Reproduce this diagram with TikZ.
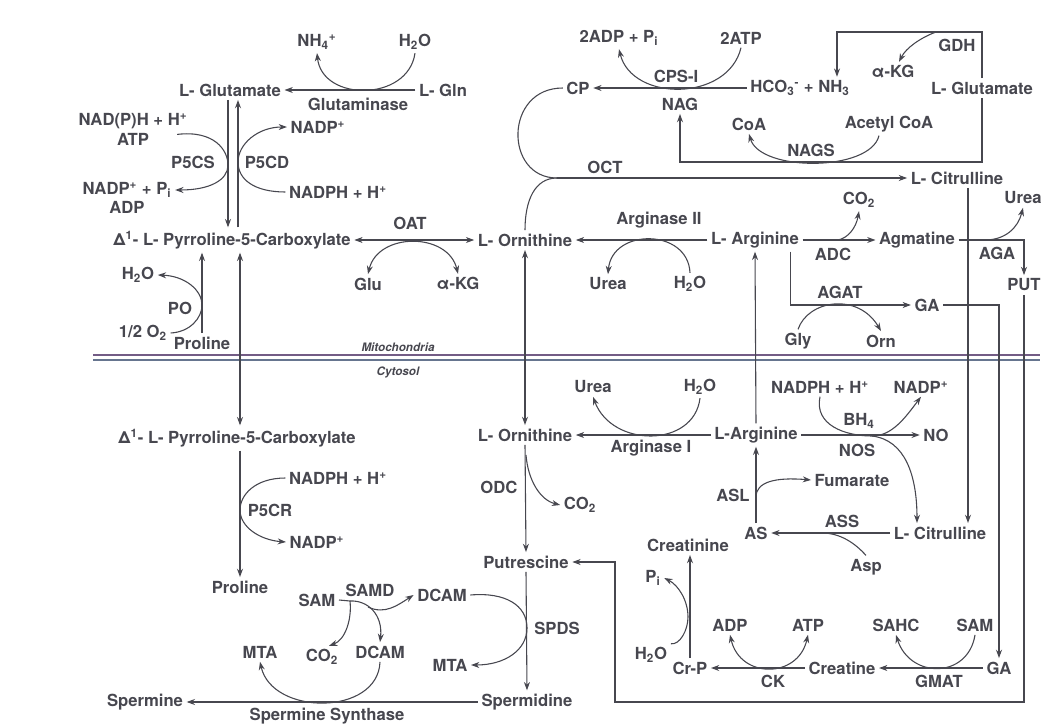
\documentclass[tikz,border=0pt]{standalone}
\usepackage{fontspec}
\setmainfont{TeX Gyre Heros}
\usetikzlibrary{arrows.meta,calc}
\definecolor{ink}{rgb}{0.28,0.28,0.31}
\definecolor{membtop}{rgb}{0.45,0.36,0.52}
\definecolor{membbot}{rgb}{0.40,0.46,0.56}
\newcommand{\sbs}[1]{\textsubscript{#1}}
\newcommand{\sps}[1]{\textsuperscript{#1}}

\begin{document}
\begin{tikzpicture}[x=0.6pt,y=-0.6pt,
    met/.style={font=\bfseries\fontsize{10}{12}\selectfont, text=ink, inner sep=2pt},
    flow/.style={draw=ink, line width=0.65pt, -{Stealth[length=5pt,width=3.6pt]}},
    twoway/.style={draw=ink, line width=0.65pt, {Stealth[length=5pt,width=3.6pt]}-{Stealth[length=5pt,width=3.6pt]}},
    plain/.style={draw=ink, line width=0.65pt},
    region/.style={font=\bfseries\itshape\fontsize{7}{8}\selectfont, text=ink, inner sep=1pt}]
    \useasboundingbox (0,0) rectangle (1047,725);

    % Mitochondria: glutamine, glutamate, proline
    \node[met] (nh4) at (317,42) {NH\sbs{4}\sps{+}};
    \node[met] (h2oA) at (415,42) {H\sbs{2}O};
    \node[met] (gluM) at (230,90) {L- Glutamate};
    \node[met] (gln) at (443,90) {L- Gln};
    \node[met] (glnase) at (358,104) {Glutaminase};
    \node[met] (nadph1) at (133,121) {NAD(P)H + H\sps{+}};
    \node[met] (atp1) at (133,139) {ATP};
    \node[met] (nadp1) at (318,127) {NADP\sps{+}};
    \node[met] (p5cs) at (193,162) {P5CS};
    \node[met] (p5cd) at (267,162) {P5CD};
    \node[met] (nadp2) at (127,190) {NADP\sps{+} + P\sbs{i}};
    \node[met] (adp1) at (127,207) {ADP};
    \node[met] (nadph2) at (338,192) {NADPH + H\sps{+}};
    \node[met] (oat) at (410,223) {OAT};
    \node[met] (p5cM) at (232,240) {Δ\sps{1}- L- Pyrroline-5-Carboxylate};
    \node[met] (ornM) at (525,240) {L- Ornithine};
    \node[met] (gluA) at (368,284) {Glu};
    \node[met] (akgA) at (458,284) {α-KG};
    \node[met] (h2oB) at (138,275) {H\sbs{2}O};
    \node[met] (po) at (180,308) {PO};
    \node[met] (o2) at (143,333) {1/2 O\sbs{2}};
    \node[met] (proM) at (202,343) {Proline};

    % Mitochondria: urea cycle side
    \node[met] (adp2) at (619,38) {2ADP + P\sbs{i}};
    \node[met] (atp2) at (741,38) {2ATP};
    \node[met] (cps) at (676,76) {CPS-I};
    \node[met] (cp) at (578,88) {CP};
    \node[met] (nag) at (680,104) {NAG};
    \node[met] (hco) at (800,88) {HCO\sbs{3}\sps{-} + NH\sbs{3}};
    \node[met] (akgB) at (893,72) {α-KG};
    \node[met] (gdh) at (957,45) {GDH};
    \node[met] (gluR) at (982,88) {L- Glutamate};
    \node[met] (coa) at (749,124) {CoA};
    \node[met] (acoa) at (889,124) {Acetyl CoA};
    \node[met] (nags) at (811,150) {NAGS};
    \node[met] (oct) at (605,167) {OCT};
    \node[met] (citM) at (957,178) {L- Citrulline};
    \node[met] (co2A) at (859,200) {CO\sbs{2}};
    \node[met] (ureaA) at (1023,198) {Urea};
    \node[met] (argII) at (659,220) {Arginase II};
    \node[met] (argM) at (755,240) {L- Arginine};
    \node[met] (agm) at (917,240) {Agmatine};
    \node[met] (adc) at (833,254) {ADC};
    \node[met] (aga) at (997,253) {AGA};
    \node[met] (ureaB) at (608,284) {Urea};
    \node[met] (h2oC) at (690,284) {H\sbs{2}O};
    \node[met] (put) at (1024,285) {PUT};
    \node[met] (agat) at (840,292) {AGAT};
    \node[met] (gaM) at (927,305) {GA};
    \node[met] (gly) at (798,341) {Gly};
    \node[met] (orn) at (881,341) {Orn};

    % Membrane
    \draw[membtop, line width=0.9pt] (93,355) -- (1040,355);
    \draw[membbot, line width=0.9pt] (93,360) -- (1040,360);
    \node[region] (mito) at (398,347) {Mitochondria};
    \node[region] (cyto) at (398,372) {Cytosol};

    % Cytosol
    \node[met] (ureaC) at (593,387) {Urea};
    \node[met] (h2oD) at (700,387) {H\sbs{2}O};
    \node[met] (nadph4) at (820,387) {NADPH + H\sps{+}};
    \node[met] (nadp4) at (921,387) {NADP\sps{+}};
    \node[met] (bh4) at (859,421) {BH\sbs{4}};
    \node[met] (p5cC) at (237,438) {Δ\sps{1}- L- Pyrroline-5-Carboxylate};
    \node[met] (ornC) at (525,435) {L- Ornithine};
    \node[met] (argC) at (756,435) {L-Arginine};
    \node[met] (no) at (936,435) {NO};
    \node[met] (argI) at (651,448) {Arginase I};
    \node[met] (nos) at (857,450) {NOS};
    \node[met] (nadph3) at (338,478) {NADPH + H\sps{+}};
    \node[met] (fum) at (852,480) {Fumarate};
    \node[met] (odc) at (499,487) {ODC};
    \node[met] (asl) at (733,495) {ASL};
    \node[met] (co2C) at (580,505) {CO\sbs{2}};
    \node[met] (p5cr) at (270,510) {P5CR};
    \node[met] (ass) at (842,521) {ASS};
    \node[met] (as) at (756,533) {AS};
    \node[met] (citC) at (940,533) {L- Citrulline};
    \node[met] (nadp3) at (317,542) {NADP\sps{+}};
    \node[met] (crn) at (688,545) {Creatinine};
    \node[met] (putr) at (526,562) {Putrescine};
    \node[met] (asp) at (866,567) {Asp};
    \node[met] (pi) at (653,578) {P\sbs{i}};
    \node[met] (proC) at (240,587) {Proline};
    \node[met] (samd) at (370,590) {SAMD};
    \node[met] (dcamA) at (442,595) {DCAM};
    \node[met] (samA) at (317,600) {SAM};
    \node[met] (adp3) at (730,625) {ADP};
    \node[met] (atp3) at (808,625) {ATP};
    \node[met] (sahc) at (896,625) {SAHC};
    \node[met] (samB) at (975,625) {SAM};
    \node[met] (spds) at (557,628) {SPDS};
    \node[met] (mtaA) at (260,652) {MTA};
    \node[met] (dcamB) at (380,652) {DCAM};
    \node[met] (h2oE) at (651,655) {H\sbs{2}O};
    \node[met] (co2B) at (322,657) {CO\sbs{2}};
    \node[met] (mtaB) at (450,665) {MTA};
    \node[met] (crp) at (690,668) {Cr-P};
    \node[met] (cre) at (842,668) {Creatine};
    \node[met] (gaC) at (999,668) {GA};
    \node[met] (ck) at (773,681) {CK};
    \node[met] (gmat) at (939,681) {GMAT};
    \node[met] (spm) at (145,702) {Spermine};
    \node[met] (spd) at (527,702) {Spermidine};
    \node[met] (spmsyn) at (327,716) {Spermine Synthase};

    % Glutaminase
    \draw[flow] (gln.west) -- (gluM.east);
    \draw[flow] (h2oA.south) .. controls (408,102) and (322,102) .. (nh4.south);

    % P5CS and P5CD
    \draw[flow] ($(gluM.south)+(-2,0)$) -- ($(p5cM.north)+(-4,0)$);
    \draw[flow] ($(p5cM.north)+(6,0)$) -- ($(gluM.south)+(8,0)$);
    \draw[flow] ($(nadph1.south east)+(-14,2)$) .. controls (214,130) and (228,150) .. (228,165)
        .. controls (228,180) and (210,190) .. (nadp2.east);
    \draw[flow] (nadph2.west) .. controls (255,192) and (238,180) .. (238,162)
        .. controls (238,144) and (258,127) .. (nadp1.west);

    % OAT
    \draw[twoway] (p5cM.east) -- (ornM.west);
    \draw[twoway] (gluA.north) .. controls (378,232) and (448,232) .. (akgA.north);

    % PO
    \draw[flow] (proM.north) -- (proM.north |- p5cM.south);
    \draw[flow] (o2.east) .. controls (190,332) and (202,318) .. (202,305)
        .. controls (202,290) and (185,276) .. (h2oB.east);

    % P5C across the membrane, P5CR
    \draw[twoway] ($(p5cM.south)+(8,0)$) -- ($(p5cC.north)+(3,0)$);
    \draw[flow] ($(p5cC.south)+(3,0)$) -- (proC.north);
    \draw[flow] (nadph3.west) .. controls (255,478) and (240,495) .. (240,510)
        .. controls (240,527) and (260,540) .. (nadp3.west);

    % CPS-I
    \draw[flow] (hco.west) -- (cp.east);
    \draw[flow] (atp2.south) .. controls (728,102) and (632,102) .. (adp2.south);

    % GDH
    \coordinate (gdhcorner) at (837,32);
    \coordinate (gdhfork) at (936,32);
    \draw[flow] (gluR.north) |- (gdhcorner) -- (gdhcorner |- hco.north);
    \draw[flow] (gdhfork) .. controls (920,38) and (906,48) .. ($(akgB.north)+(6,0)$);

    % NAGS
    \coordinate (nagscorner) at (680,162);
    \draw[flow] (gluR.south) |- (nagscorner) -- (nag.south);
    \draw[flow] ($(acoa.south)+(-10,0)$) .. controls (870,172) and (760,172) .. (coa.south);

    % OCT
    \coordinate (octjoin) at (557,178);
    \draw[plain] (cp.west) .. controls (504,88) and (504,178) .. (octjoin);
    \draw[plain] (ornM.north) .. controls (525,200) and (535,178) .. (octjoin);
    \draw[flow] (octjoin) -- (citM.west);
    \draw[flow] ($(citM.south)+(11,0)$) -- ($(citC.north)+(28,0)$);

    % Arginase II
    \draw[flow] (argM.west) -- (ornM.east);
    \draw[flow] (h2oC.north) .. controls (688,228) and (612,228) .. (ureaB.north);

    % ADC and AGA
    \coordinate (adcfork) at (838,240);
    \coordinate (agafork) at (985,240);
    \draw[flow] (argM.east) -- (agm.west);
    \draw[flow] (adcfork) .. controls (848,238) and (856,228) .. (co2A.south);
    \draw[flow] (agm.east) -| (put.north);
    \draw[flow] (agafork) .. controls (1005,240) and (1018,228) .. (ureaA.south);

    % AGAT
    \draw[flow] ($(argM.south east)+(-12,0)$) |- (gaM.west);
    \draw[flow] (gly.north) .. controls (808,300) and (858,292) .. (orn.north);
    \draw[flow] (gaM.east) -| (gaC.north);
    \coordinate (putturn) at (615,702);
    \draw[flow] (put.south) |- (putturn) |- (putr.east);

    % Ornithine, ODC
    \coordinate (odcfork) at (526,455);
    \draw[twoway] (ornM.south) -- (ornC.north);
    \draw[flow] (ornC.south) -- (putr.north);
    \draw[flow] (odcfork) .. controls (528,480) and (540,500) .. (co2C.west);

    % Arginase I
    \draw[flow] (argC.north) -- (argM.south);
    \draw[flow] (argC.west) -- (ornC.east);
    \draw[flow] (h2oD.south) .. controls (694,448) and (612,448) .. (ureaC.south);

    % NOS
    \coordinate (nosfork) at (872,436);
    \draw[flow] (argC.east) -- (no.west);
    \draw[flow] (nadph4.south) .. controls (814,425) and (845,436) .. (nosfork)
        .. controls (905,440) and (917,475) .. ($(citC.north)+(-23,0)$);
    \draw[flow] (nosfork) .. controls (892,436) and (905,418) .. (nadp4.south);

    % ASL and ASS
    \coordinate (aslfork) at (756,497);
    \coordinate (assfork) at (822,533);
    \draw[flow] (as.north) -- (argC.south);
    \draw[flow] (aslfork) .. controls (756,482) and (775,477) .. (fum.west);
    \draw[flow] (citC.west) -- (as.east);
    \draw[plain] (assfork) .. controls (840,533) and (855,543) .. (asp.north);

    % GMAT, CK
    \draw[flow] (gaC.west) -- (cre.east);
    \draw[flow] (samB.south) .. controls (968,679) and (910,679) .. (sahc.south);
    \draw[flow] (cre.west) -- (crp.east);
    \draw[twoway] (adp3.south) .. controls (740,679) and (798,679) .. (atp3.south);
    \draw[flow] (crp.north) -- (crp.north |- crn.south);
    \draw[flow] (h2oE.north east) .. controls (680,645) and (688,630) .. (688,617)
        .. controls (688,600) and (678,585) .. (pi.east);

    % Polyamines
    \coordinate (samdfork) at (350,601);
    \coordinate (samdmid) at (368,607);
    \draw[flow] (putr.south) -- (spd.north);
    \draw[flow] (dcamA.east) .. controls (505,592) and (527,605) .. (527,628)
        .. controls (527,650) and (505,665) .. (mtaB.east);
    \draw[flow] (spd.west) -- (spm.east);
    \draw[flow] (dcamB.south) .. controls (378,716) and (272,716) .. (mtaA.south);
    \draw[plain] (samA.east) -- (samdfork);
    \draw[flow] (samdfork) .. controls (352,620) and (345,640) .. ($(co2B.north)+(7,0)$);
    \draw[flow] (samdfork) .. controls (368,600) and (383,615) .. (dcamB.north);
    \draw[flow] (samdmid) .. controls (385,615) and (398,605) .. (dcamA.west);
\end{tikzpicture}
\end{document}
